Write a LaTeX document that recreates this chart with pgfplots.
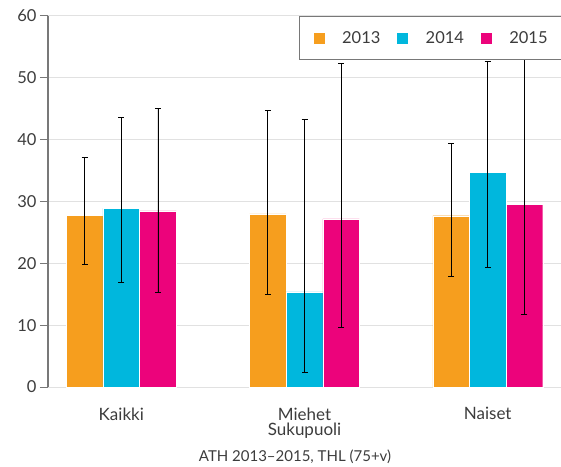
\documentclass[border=0pt]{standalone}
\usepackage{pgfplots}
\usepackage{pgfplotstable}
\pgfplotsset{compat=1.18}
\usepackage{fontspec}
\setmainfont{Lato}
\definecolor{corange}{RGB}{246,158,30}
\definecolor{ccyan}{RGB}{0,183,221}
\definecolor{cmag}{RGB}{236,3,123}
\definecolor{ctext}{RGB}{60,60,60}
\definecolor{cgrid}{RGB}{225,225,225}
\definecolor{caxis}{RGB}{120,120,120}

\pgfplotstableread{
x y ep em
0 27.8 9.3 8.0
1 28.0 16.7 13.1
2 27.7 11.7 9.8
}\dataA
\pgfplotstableread{
x y ep em
0 28.9 14.7 12.0
1 15.4 27.8 13.1
2 34.7 17.9 15.3
}\dataB
\pgfplotstableread{
x y ep em
0 28.5 16.5 13.2
1 27.2 25.1 17.6
2 29.5 25.5 17.7
}\dataC

\begin{document}
\begin{tikzpicture}[font=\fontsize{15pt}{18pt}\selectfont, text=ctext]
\path[use as bounding box] (-48pt,-79pt) rectangle (513pt,387pt);
\begin{axis}[
  at={(0,0)}, anchor=south west,
  scale only axis, width=513pt, height=371pt,
  ybar, bar width=0.2,
  xmin=-0.4, xmax=2.4, ymin=0, ymax=60,
  xtick={0,1,2}, xticklabels={Kaikki,Miehet,Naiset},
  ytick={0,10,...,60},
  /pgf/number format/assume math mode=true,
  yticklabel style={font=\fontsize{16.5pt}{18pt}\selectfont, text=ctext},
  xticklabel style={font=\fontsize{17pt}{20pt}\selectfont, text=ctext, yshift=-9pt},
  xlabel={Sukupuoli},
  xlabel style={at={(rel axis cs:0.5,0)}, anchor=center, yshift=-44pt, font=\fontsize{17pt}{20pt}\selectfont},
  axis x line*=bottom, axis y line*=left,
  x axis line style={draw=none},
  y axis line style={draw=caxis, line width=1.3pt, -},
  xtick style={draw=none},
  ytick style={draw=caxis, line width=1pt},
  tick align=outside, major tick length=8pt,
  ymajorgrids, grid style={cgrid, line width=1pt},
  legend columns=3,
  legend style={at={(rel axis cs:1,1)}, anchor=north east, xshift=2pt,
    draw=caxis, line width=0.8pt, fill=white, inner xsep=13pt, inner ysep=13pt,
    font=\fontsize{16.5pt}{18pt}\selectfont,
    /tikz/every odd column/.append style={column sep=15pt},
    /tikz/every even column/.append style={column sep=14pt}},
  legend image code/.code={\fill[#1] (0pt,-6pt) rectangle (12pt,6pt);},
  error bars/y dir=both, error bars/y explicit,
  error bars/error mark=-,
  error bars/error mark options={rotate=90, black, mark size=3pt, line width=0.8pt},
  error bars/error bar style={black, line width=0.8pt},
]
\addplot[fill=corange, draw=white, line width=0.3pt, bar shift=-0.2]
  table[x=x, y=y, y error plus=ep, y error minus=em] {\dataA};
\addplot[fill=ccyan, draw=white, line width=0.3pt, bar shift=0]
  table[x=x, y=y, y error plus=ep, y error minus=em] {\dataB};
\addplot[fill=cmag, draw=white, line width=0.3pt, bar shift=0.2]
  table[x=x, y=y, y error plus=ep, y error minus=em] {\dataC};
\legend{2013,2014,2015}
\end{axis}
\node[anchor=center] at (247pt,-70pt) {ATH 2013–2015, THL (75+v)};
\end{tikzpicture}
\end{document}
